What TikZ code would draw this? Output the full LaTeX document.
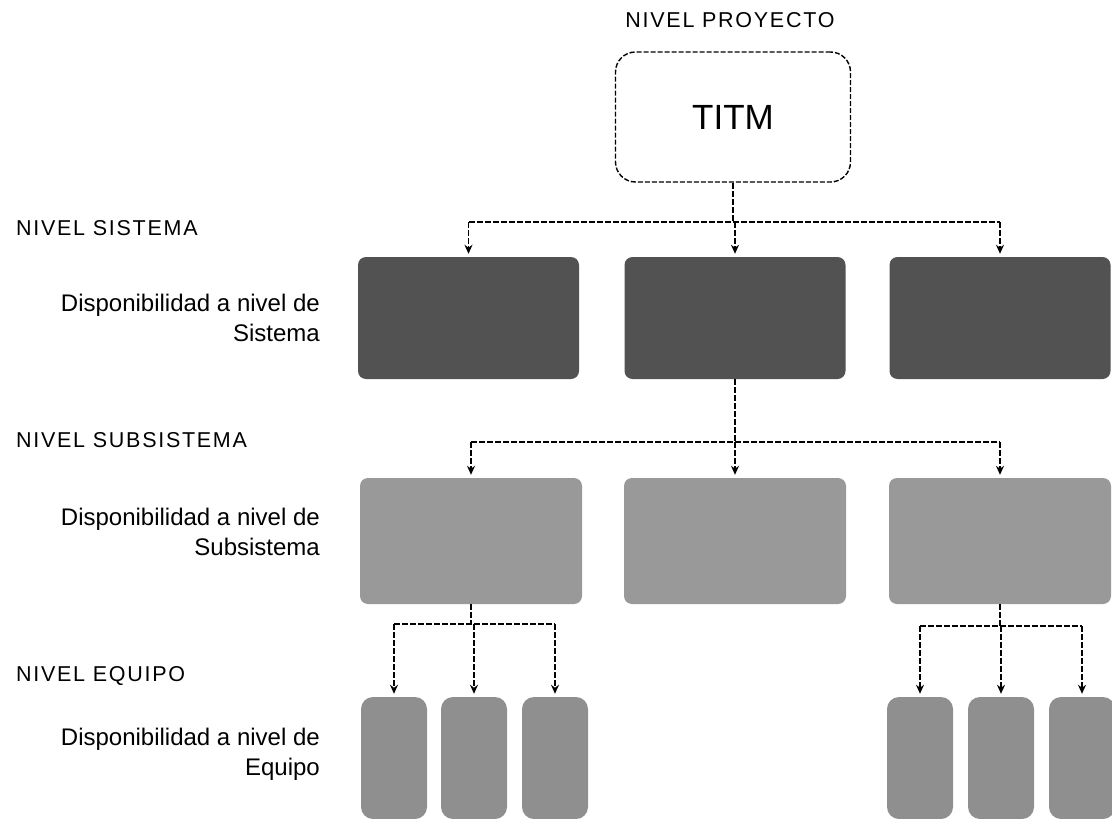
\documentclass[tikz,border=0pt]{standalone}
\usepackage{fontspec}
\setmainfont{Liberation Sans}
\newfontfamily\spacedfont[LetterSpace=8]{Liberation Sans}
\usetikzlibrary{arrows.meta}
\tikzset{
  levelhead/.style={font=\spacedfont\fontsize{21.5}{25}\selectfont, anchor=west, inner sep=0pt},
  leveltext/.style={font=\fontsize{24}{30}\selectfont, anchor=east, align=right, inner sep=0pt},
  topbox/.style={draw, dash pattern=on 5pt off 2pt, line width=1.4pt, rounded corners=20pt, minimum width=235pt, minimum height=130pt, font=\fontsize{35}{38}\selectfont, inner sep=0pt},
  sysbox/.style={fill=black!68, rounded corners=8pt, minimum width=221pt, minimum height=122pt, inner sep=0pt},
  subbox/.style={fill=black!40, rounded corners=8pt, minimum width=222pt, minimum height=126pt, inner sep=0pt},
  eqbox/.style={fill=black!44, rounded corners=12pt, minimum width=66pt, minimum height=122pt, inner sep=0pt},
  conn/.style={dash pattern=on 6pt off 2pt, line width=1.5pt},
  arr/.style={-{Stealth[length=9pt,width=8pt]}, shorten >=3pt}
}
\begin{document}
\begin{tikzpicture}[x=1pt,y=-1pt]
\useasboundingbox (0,0) rectangle (1112,819);
% level labels
\node[font=\spacedfont\fontsize{21.5}{25}\selectfont, inner sep=0pt] (lproj) at (730,20) {NIVEL PROYECTO};
\node[levelhead] (lsys) at (16,228) {NIVEL SISTEMA};
\node[leveltext] (dsys) at (320,318) {Disponibilidad a nivel de\\Sistema};
\node[levelhead] (lsub) at (16,440) {NIVEL SUBSISTEMA};
\node[leveltext] (dsub) at (320,532) {Disponibilidad a nivel de\\Subsistema};
\node[levelhead] (leq) at (16,676) {NIVEL EQUIPO};
\node[leveltext] (deq) at (320,754) {Disponibilidad a nivel de\\Equipo};
% top
\node[topbox] (titm) at (733,117) {TITM};
% system level
\node[sysbox] (s1) at (468.5,318) {};
\node[sysbox] (s2) at (735,318) {};
\node[sysbox] (s3) at (1000,318) {};
% subsystem level
\node[subbox] (b1) at (471,541) {};
\node[subbox] (b2) at (735,541) {};
\node[subbox] (b3) at (1000,541) {};
% equipment level
\node[eqbox] (e1) at (394,758) {};
\node[eqbox] (e2) at (474,758) {};
\node[eqbox] (e3) at (555,758) {};
\node[eqbox] (e4) at (920,758) {};
\node[eqbox] (e5) at (1001,758) {};
\node[eqbox] (e6) at (1082,758) {};
% buses
\coordinate (bus1) at (735,222);
\coordinate (bus2) at (735,442);
\coordinate (bus3) at (471,624);
\coordinate (bus4) at (1000,626);
% connectors top -> system
\draw[conn] (titm.south) -- (titm.south |- bus1);
\draw[conn] (s1.north |- bus1) -- (s3.north |- bus1);
\foreach \n in {s1,s2,s3} \draw[conn,arr] (\n.north |- bus1) -- (\n.north);
% system -> subsystem
\draw[conn] (s2.south) -- (s2.south |- bus2);
\draw[conn] (b1.north |- bus2) -- (b3.north |- bus2);
\foreach \n in {b1,b2,b3} \draw[conn,arr] (\n.north |- bus2) -- (\n.north);
% subsystem -> equipment (left)
\draw[conn] (b1.south) -- (b1.south |- bus3);
\draw[conn] (e1.north |- bus3) -- (e3.north |- bus3);
\foreach \n in {e1,e2,e3} \draw[conn,arr] (\n.north |- bus3) -- (\n.north);
% subsystem -> equipment (right)
\draw[conn] (b3.south) -- (b3.south |- bus4);
\draw[conn] (e4.north |- bus4) -- (e6.north |- bus4);
\foreach \n in {e4,e5,e6} \draw[conn,arr] (\n.north |- bus4) -- (\n.north);
\end{tikzpicture}
\end{document}
